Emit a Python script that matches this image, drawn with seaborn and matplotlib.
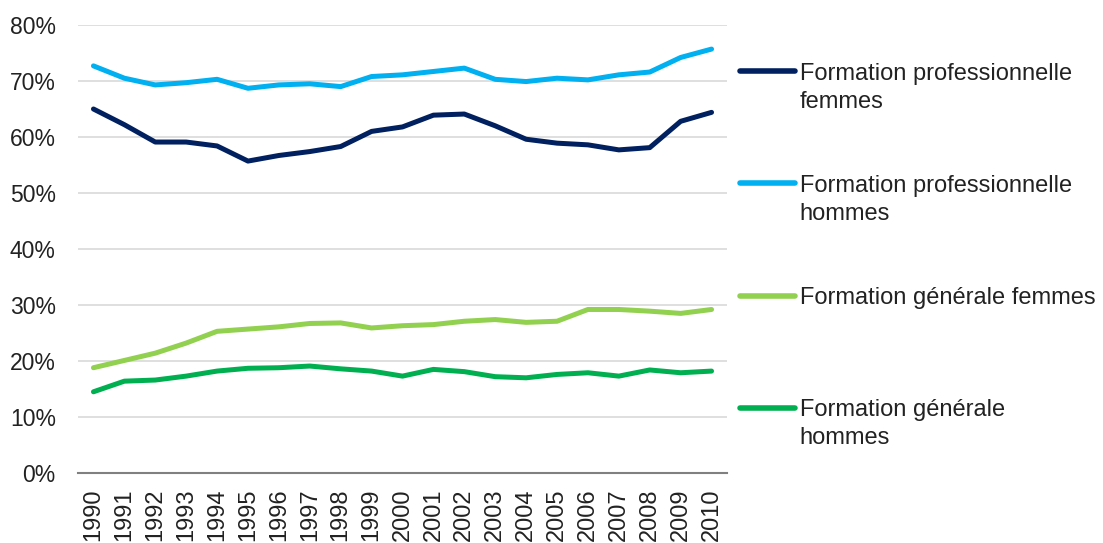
import numpy as np
import pandas as pd
import matplotlib
matplotlib.use("Agg")
import matplotlib.pyplot as plt
import seaborn as sns
from matplotlib.legend_handler import HandlerLine2D
from matplotlib.ticker import PercentFormatter

years = list(range(1990, 2011))

pro_femmes = [65.0, 62.2, 59.1, 59.1, 58.4, 55.7, 56.7, 57.4, 58.3, 61.0, 61.8,
              63.9, 64.1, 62.0, 59.6, 58.9, 58.6, 57.7, 58.1, 62.8, 64.4]
pro_hommes = [72.7, 70.5, 69.3, 69.7, 70.3, 68.7, 69.3, 69.5, 69.0, 70.8, 71.1,
              71.7, 72.3, 70.3, 69.9, 70.5, 70.2, 71.1, 71.6, 74.2, 75.7]
gen_femmes = [18.8, 20.1, 21.4, 23.2, 25.3, 25.7, 26.1, 26.7, 26.8, 25.9, 26.3,
              26.5, 27.1, 27.4, 26.9, 27.1, 29.2, 29.2, 28.9, 28.5, 29.2]
gen_hommes = [14.5, 16.4, 16.6, 17.3, 18.2, 18.7, 18.8, 19.1, 18.6, 18.2, 17.3,
              18.5, 18.1, 17.2, 17.0, 17.6, 17.9, 17.3, 18.4, 17.9, 18.2]

series_names = ["Formation professionnelle\nfemmes",
                "Formation professionnelle\nhommes",
                "Formation générale femmes",
                "Formation générale\nhommes"]
series_values = [pro_femmes, pro_hommes, gen_femmes, gen_hommes]
colors = ["#002060", "#00B0F0", "#92D050", "#00B050"]

sns.set_theme(style="white")
plt.rcParams["font.family"] = ["Liberation Sans", "DejaVu Sans"]

df = pd.DataFrame({
    "year": np.tile([str(y) for y in years], len(series_names)),
    "value": np.concatenate([np.array(v) / 100 for v in series_values]),
    "serie": np.repeat(series_names, len(years)),
})

fig = plt.figure(figsize=(11.03, 5.43), dpi=100)
ax = fig.add_axes([78 / 1103, 1 - 473 / 543, (727 - 78) / 1103, (473 - 25) / 543])

sns.lineplot(data=df, x="year", y="value", hue="serie", hue_order=series_names,
             palette=colors, linewidth=3.6, ax=ax, legend=True,
             solid_capstyle="round", solid_joinstyle="round")

ax.set_xlim(-0.5, len(years) - 0.5)
ax.set_ylim(0, 0.8)
ax.set_yticks(np.arange(0, 0.81, 0.1))
ax.yaxis.set_major_formatter(PercentFormatter(1.0, decimals=0))
ax.grid(axis="y", color="#D9D9D9", linewidth=1.2)
ax.grid(axis="x", visible=False)
ax.set_axisbelow(True)
for s in ["top", "right", "left"]:
    ax.spines[s].set_visible(False)
ax.spines["bottom"].set_color("#808080")
ax.spines["bottom"].set_linewidth(1.5)
ax.set_xlabel("")
ax.set_ylabel("")
ax.tick_params(axis="y", length=0, pad=16, labelsize=16.5, labelcolor="#222222")
ax.tick_params(axis="x", length=0, pad=11, labelsize=17, labelcolor="#222222",
               labelrotation=90)


class FirstLineHandler(HandlerLine2D):
    def __init__(self, shift=0.0, **kw):
        super().__init__(**kw)
        self.shift = shift

    def create_artists(self, legend, orig_handle, xdescent, ydescent, width,
                       height, fontsize, trans):
        arts = super().create_artists(legend, orig_handle, xdescent, ydescent,
                                      width, height, fontsize, trans)
        for a in arts:
            a.set_ydata(np.asarray(a.get_ydata()) + self.shift * fontsize)
        return arts


handles, labels = ax.get_legend_handles_labels()
ax.get_legend().remove()
lab_fixed = [l if "\n" in l else l + "\n " for l in labels]
hmap = {h: FirstLineHandler(shift=0.71) for h in handles}
leg = fig.legend(handles, lab_fixed, loc="upper left",
                 bbox_to_anchor=(740 / 1103, 1 - 63 / 543), frameon=False,
                 fontsize=17, handlelength=2.33, handletextpad=0.2,
                 labelspacing=2.63, handler_map=hmap, borderaxespad=0,
                 borderpad=0)
for t in leg.get_texts():
    t.set_color("#222222")
    t.set_linespacing(1.35)
for l in leg.get_lines():
    l.set_linewidth(4)
    l.set_solid_capstyle("round")

fig.savefig("out.png", dpi=100)
